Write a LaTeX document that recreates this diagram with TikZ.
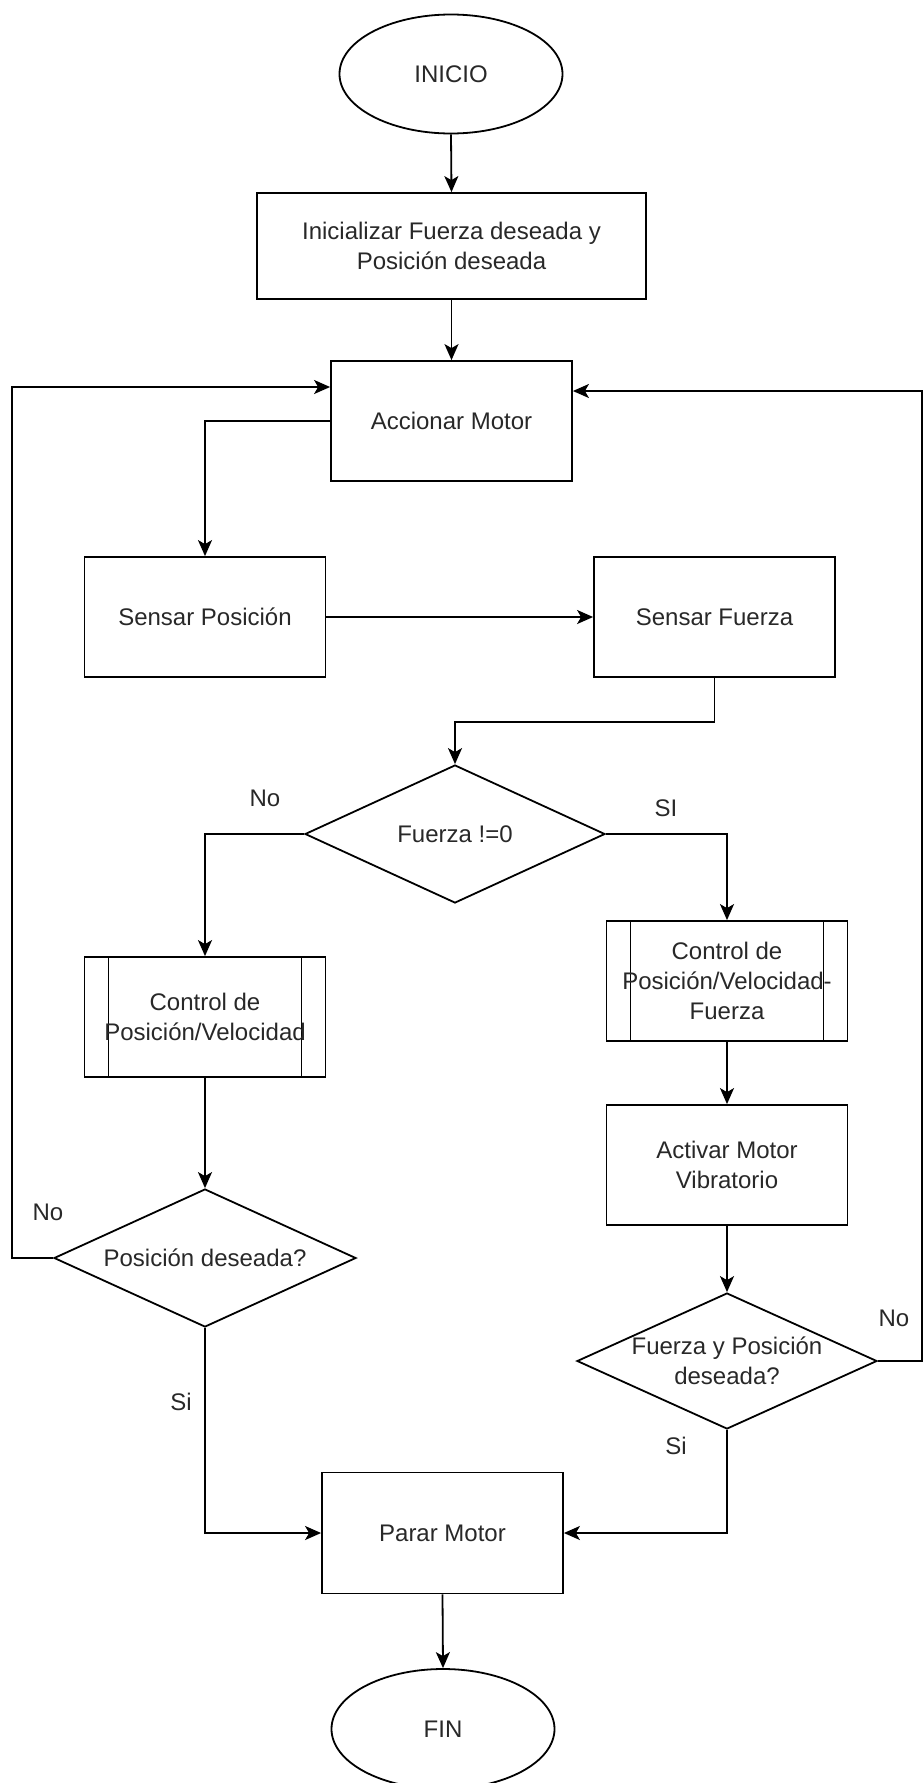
\documentclass[tikz,border=0pt]{standalone}
\usepackage{fontspec}
\setmainfont{Liberation Sans}
\usetikzlibrary{shapes.geometric,arrows.meta}
\definecolor{ink}{RGB}{0,0,0}
\definecolor{txt}{RGB}{40,40,40}
\begin{document}
\begin{tikzpicture}[x=1pt,y=-1pt,
  every node/.style={font=\fontsize{24}{30}\selectfont, text=txt, align=center},
  line/.style={draw=ink, line width=1.8pt},
  flow/.style={line, -{Stealth[length=16pt,width=14pt,inset=4pt]}},
  stepbox/.style={rectangle, draw=ink, line width=1.8pt, inner sep=0pt,
    minimum width=241pt, minimum height=120pt},
  procbox/.style={stepbox, path picture={
    \draw[draw=ink, line width=1.8pt]
      ([xshift=24pt]path picture bounding box.north west) -- ([xshift=24pt]path picture bounding box.south west)
      ([xshift=-24pt]path picture bounding box.north east) -- ([xshift=-24pt]path picture bounding box.south east);}},
  termbox/.style={ellipse, draw=ink, line width=1.8pt, inner sep=0pt,
    minimum width=223pt, minimum height=119pt},
  choice/.style={diamond, draw=ink, line width=1.8pt, inner sep=0pt,
    minimum width=300pt, minimum height=138pt},
  tag/.style={inner sep=0pt}
]
\useasboundingbox (0,0) rectangle (922,1783);

% terminals and steps
\node[termbox] (inicio) at (451,74) {INICIO};
\node[stepbox, minimum width=389pt, minimum height=106pt] (init) at (451.5,246)
  {Inicializar Fuerza deseada y\\Posición deseada};
\node[stepbox] (accion) at (451.5,421) {Accionar Motor};
\node[stepbox] (spos) at (205,617) {Sensar Posición};
\node[stepbox] (sfuer) at (714.5,617) {Sensar Fuerza};

% first decision
\node[choice] (d1) at (455,834) {};
\node[tag] (d1txt) at (d1.center) {Fuerza !=0};

% left branch
\node[procbox] (cpv) at (205,1017) {Control de\\Posición/Velocidad};
\node[choice, minimum width=302pt] (d2) at (205,1258) {};
\node[tag] (d2txt) at (d2.center) {Posición deseada?};

% right branch
\node[procbox] (cpvf) at (727,981) {Control de\\Posición/Velocidad-\\Fuerza};
\node[stepbox] (act) at (727,1165) {Activar Motor\\Vibratorio};
\node[choice, minimum height=136pt] (d3) at (727,1361) {};
\node[tag] (d3txt) at (d3.center) {Fuerza y Posición\\deseada?};

% end
\node[stepbox, minimum height=121pt] (parar) at (442.5,1533) {Parar Motor};
\node[termbox, minimum height=120pt] (fin) at (443,1729) {FIN};

% branch labels
\node[tag] (lno1) at (265,798) {No};
\node[tag] (lsi1) at (666,808) {SI};
\node[tag] (lno2) at (48,1212) {No};
\node[tag] (lsi2) at (181,1402) {Si};
\node[tag] (lno3) at (894,1318) {No};
\node[tag] (lsi3) at (676,1446) {Si};

% connectors
\draw[flow] (inicio.south) -- (init.north);
\draw[flow] (init.south) -- (accion.north);
\draw[flow] (accion.west) -| (spos.north);
\draw[flow] (spos.east) -- (sfuer.west);
\draw[flow] (sfuer.south) -- ++(0,44) -| (d1.north);
\draw[flow] (d1.west) -| (cpv.north);
\draw[flow] (d1.east) -| (cpvf.north);
\draw[flow] (cpv.south) -- (d2.north);
\draw[flow] (cpvf.south) -- (act.north);
\draw[flow] (act.south) -- (d3.north);
\draw[flow] (d2.west) -- ++(-41,0) |- ([yshift=34pt]accion.west);
\draw[flow] (d3.east) -- ++(44,0) |- ([yshift=30pt]accion.east);
\draw[flow] (d2.south) |- (parar.west);
\draw[flow] (d3.south) |- (parar.east);
\draw[flow] (parar.south) -- (fin.north);
\end{tikzpicture}
\end{document}
